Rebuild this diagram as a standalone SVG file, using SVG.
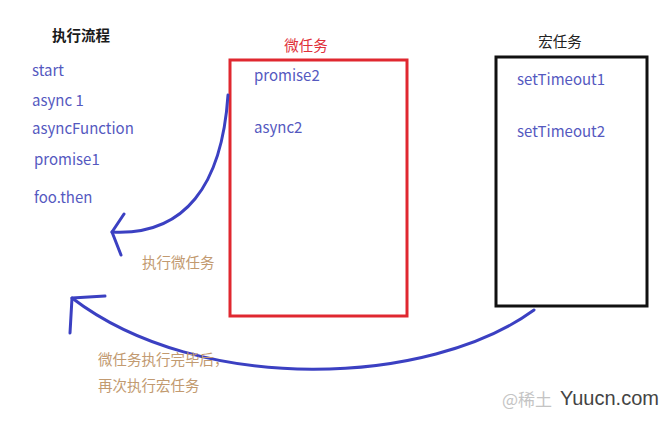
<svg xmlns="http://www.w3.org/2000/svg" width="670" height="423" viewBox="0 0 670 423">
<style>
text{font-family:"Noto Sans CJK SC","Noto Sans",sans-serif;}
.item{font-size:15px;fill:#5559bf;}
.title{font-size:14.5px;fill:#1a1a1a;font-weight:bold;}
.note{font-size:14.5px;fill:#c29a70;}
.conn{fill:none;stroke:#3b40c2;stroke-width:3;stroke-linecap:round;stroke-linejoin:round;}
</style>
<rect width="670" height="423" fill="#ffffff"/>
<g id="flow">
<text class="title" x="52" y="41">执行流程</text>
<text class="item" x="32" y="76">start</text>
<text class="item" x="32" y="106">async 1</text>
<text class="item" x="32" y="134">asyncFunction</text>
<text class="item" x="34" y="165">promise1</text>
<text class="item" x="34" y="203">foo.then</text>
</g>
<g id="micro">
<text x="306" y="51" text-anchor="middle" style="font-size:14.5px;fill:#e0303a;">微任务</text>
<rect x="230" y="60" width="177" height="256" fill="none" stroke="#e02830" stroke-width="3"/>
<text class="item" x="254" y="81">promise2</text>
<text class="item" x="254" y="133">async2</text>
</g>
<g id="macro">
<text x="560" y="47" text-anchor="middle" style="font-size:14.5px;fill:#222;">宏任务</text>
<rect x="496" y="57" width="151" height="249" fill="none" stroke="#111" stroke-width="3"/>
<text class="item" x="517" y="85">setTimeout1</text>
<text class="item" x="517" y="137">setTimeout2</text>
</g>
<g id="connectors">
<path class="conn" d="M228,95 C222,185 185,236 112,232"/>
<path class="conn" d="M124,214 L112,232 L121,255"/>
<path class="conn" d="M534,310 C430,386 200,396 72,298"/>
<path class="conn" d="M105,296 L72,298 L70,333"/>
</g>
<g id="labels">
<text class="note" x="142" y="268">执行微任务</text>
<text class="note" x="98" y="365">微任务执行完毕后，</text>
<text class="note" x="98" y="391">再次执行宏任务</text>
</g>
<g id="watermark">
<text x="502" y="406" style="font-size:17px;fill:#c4c4c4;">@稀土</text>
<text x="560" y="405" style="font-size:20px;fill:#444;font-family:'Liberation Sans',sans-serif;">Yuucn.com</text>
</g>
</svg>
